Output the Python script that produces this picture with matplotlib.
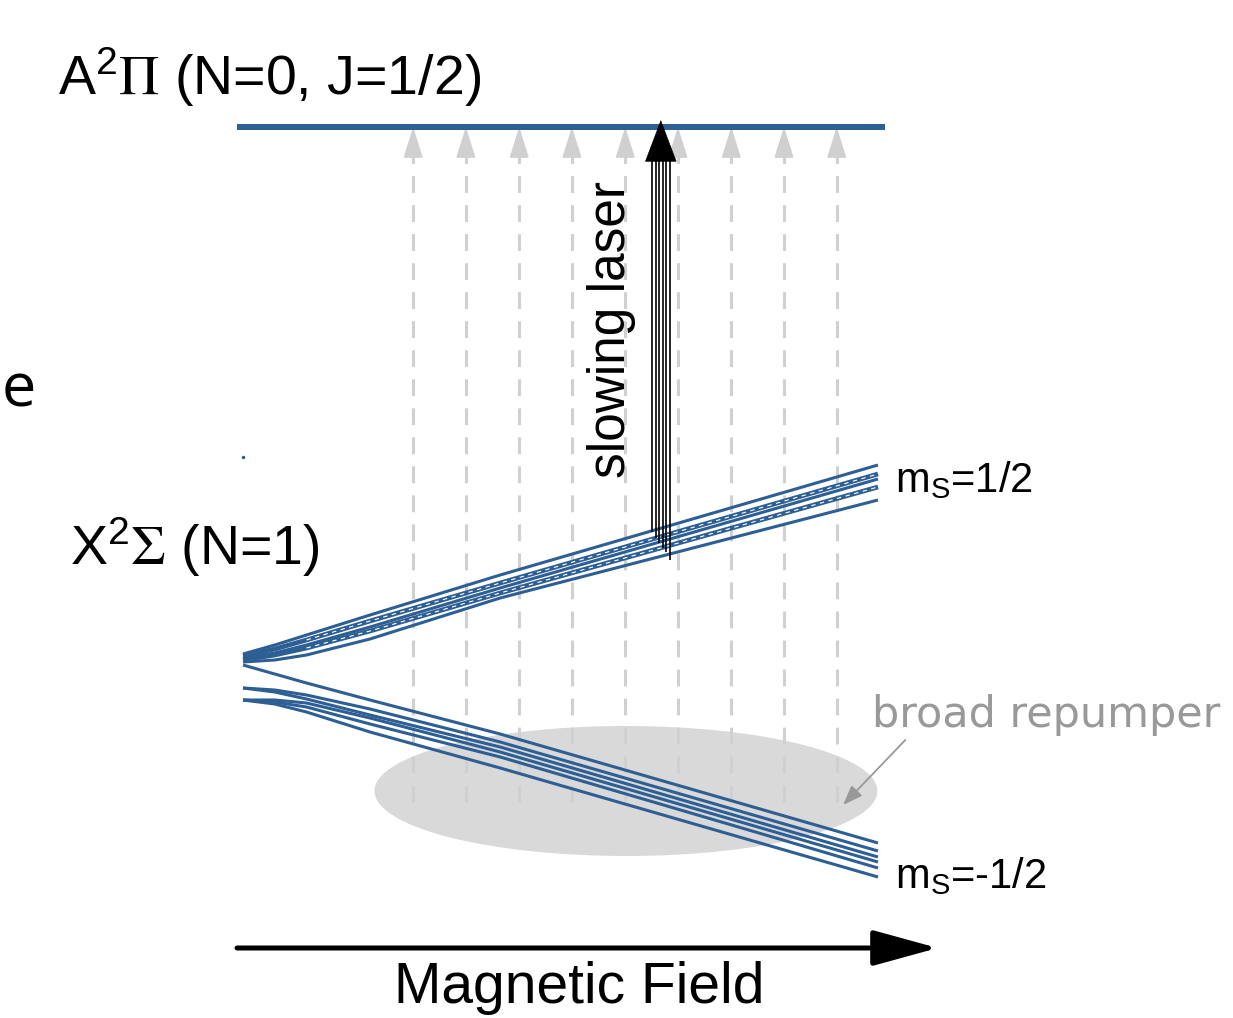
import numpy as np
import matplotlib
matplotlib.use('Agg')
import matplotlib.pyplot as plt
from matplotlib.patches import Ellipse

plt.rcParams['font.family'] = ['Liberation Sans', 'DejaVu Sans']
plt.rcParams['mathtext.fontset'] = 'stix'

# field axis (arb. units), energies (arb. units)
B_pts = [0.0, 0.05, 0.1, 0.2, 0.405, 1.0]

# X(N=1) Zeeman levels, m_S = +1/2 manifold
up_E = [
    [0.06, 0.15, 0.25, 0.45, 0.85, 1.95],
    [0.04, 0.11, 0.20, 0.39, 0.77, 1.86],
    [0.02, 0.07, 0.15, 0.33, 0.72, 1.81],
    [0.00, 0.05, 0.12, 0.29, 0.67, 1.73],
    [-0.02, 0.00, 0.05, 0.21, 0.62, 1.60],
]
up_dashed = [False, True, False, True, False]

# m_S = -1/2 manifold
low_E = [
    [-0.05, -0.14, -0.23, -0.40, -0.74, -1.83],
    [-0.28, -0.30, -0.35, -0.49, -0.82, -1.91],
    [-0.28, -0.32, -0.39, -0.55, -0.87, -1.97],
    [-0.40, -0.40, -0.43, -0.58, -0.92, -2.02],
    [-0.40, -0.42, -0.47, -0.64, -0.97, -2.08],
    [-0.40, -0.44, -0.52, -0.72, -1.08, -2.17],
]

E_A = 5.33          # A2Pi(N=0, J=1/2)
B_A = [-0.01, 1.011]

# repump transitions (gray dashed)
repump_B = [0.268, 0.351, 0.435, 0.518, 0.602, 0.685, 0.769, 0.852, 0.935]
repump_E0 = -1.42

# slowing laser transitions
laser_B = [0.644, 0.650, 0.655, 0.661, 0.666, 0.672]
laser_E0 = [1.28, 1.22, 1.17, 1.12, 1.08, 1.00]
laser_top = 5.00

blue = '#2d5f94'
gray = '#d0d0d0'

fig = plt.figure(figsize=(12.33, 10.18), dpi=100)
ax = fig.add_axes([0, 0, 1, 1])
ax.set_xlim(-0.3827, 1.5591)
ax.set_ylim(-3.58, 6.60)
ax.axis('off')

# broad repumper
ax.add_patch(Ellipse((0.603, -1.31), 0.792, 1.30, color='#d9d9d9', lw=0, zorder=1))

"Repump guides"
for b in repump_B:
    ax.plot([b, b], [repump_E0, 5.08], color=gray, lw=2.2, ls=(0, (5.5, 4)), zorder=2)
    ax.annotate('', xy=(b, E_A), xytext=(b, 5.02),
                arrowprops=dict(arrowstyle='-|>,head_length=1.9,head_width=0.6',
                                color=gray, lw=1.5, mutation_scale=10,
                                shrinkA=0, shrinkB=0), zorder=2)

"Zeeman levels"
for E, d in zip(up_E, up_dashed):
    ax.plot(B_pts, E, color=blue, lw=2.2 if not d else 3.4, zorder=3, solid_capstyle='butt')
    if d:
        ax.plot(B_pts[2:], E[2:], color='white', lw=0.8, ls=(0, (4, 4)), zorder=3)
for E in low_E:
    ax.plot(B_pts, E, color=blue, lw=2.2, zorder=3, solid_capstyle='butt')
ax.plot([0.0], [2.03], 'o', color=blue, ms=1.5, zorder=3)

# excited state
ax.plot(B_A, [E_A, E_A], color=blue, lw=4.3, zorder=4, solid_capstyle='butt')

"Slowing laser"
ax.vlines(laser_B, laser_E0, laser_top, color='k', lw=1.2, zorder=5)
bc = np.mean(laser_B)
ax.annotate('', xy=(bc, 5.40), xytext=(bc, laser_top),
            arrowprops=dict(arrowstyle='-|>,head_length=2.9,head_width=1.1',
                            color='k', lw=0.5, mutation_scale=10,
                            shrinkA=0, shrinkB=0), zorder=6)
ax.text(0.581, 3.30, 'slowing laser', rotation=90, ha='center', va='center', fontsize=37)

"Labels"
ax.text(-0.291, 5.65, r'A$\mathregular{^2}\Pi$ (N=0, J=1/2)', fontsize=40, va='baseline', ha='left')
ax.text(-0.272, 0.95, r'X$\mathregular{^2}\Sigma$ (N=1)', fontsize=40, va='baseline', ha='left')
ax.text(-0.380, 2.53, 'e', fontsize=44, family='Open Sans', va='baseline', ha='left')
ax.text(1.027, 1.80, r'm$\mathregular{_S}$=1/2', fontsize=30, va='center', ha='left')
ax.text(1.027, -2.16, r'm$\mathregular{_S}$=-1/2', fontsize=30, va='center', ha='left')
ax.text(0.991, -0.55, 'broad repumper', fontsize=31, family='DejaVu Sans',
        color='#999999', va='center', ha='left')
ax.annotate('', xy=(0.945, -1.45), xytext=(1.043, -0.80),
            arrowprops=dict(arrowstyle='-|>,head_length=1.2,head_width=0.45',
                            color='#999999', lw=1.3, mutation_scale=10,
                            shrinkA=0, shrinkB=0))

"Magnetic field axis"
ax.annotate('', xy=(1.094, -2.88), xytext=(-0.0094, -2.88),
            arrowprops=dict(arrowstyle='-|>,head_length=2.0,head_width=0.55',
                            color='k', lw=3.6, mutation_scale=20,
                            shrinkA=0, shrinkB=0))
ax.text(0.529, -3.43, 'Magnetic Field', fontsize=41, ha='center', va='baseline')

plt.savefig('out.png', dpi=100)
